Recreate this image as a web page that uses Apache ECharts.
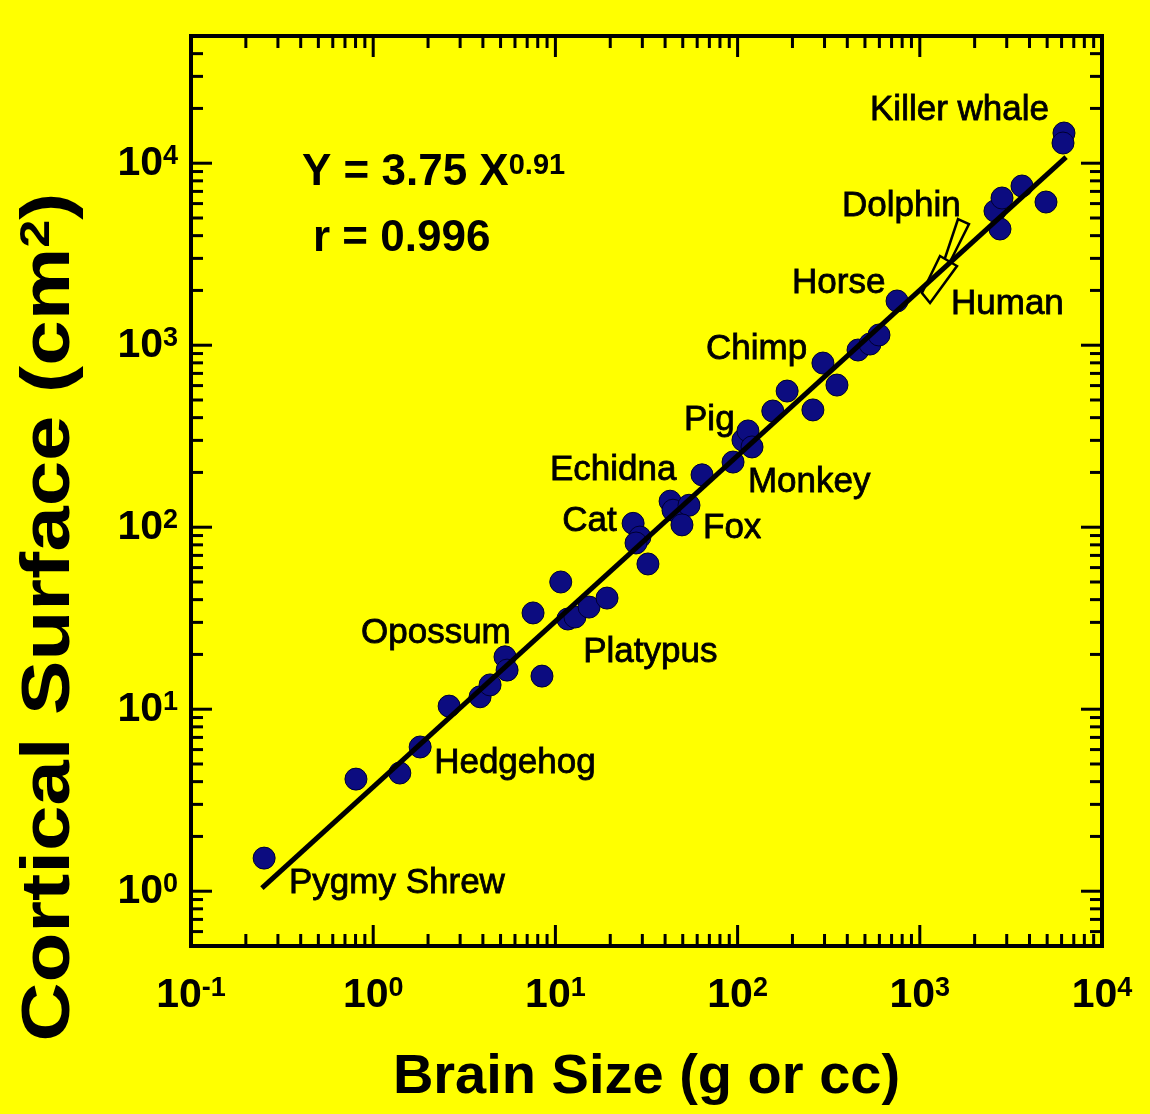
<!DOCTYPE html>
<html>
<head>
<meta charset="utf-8">
<title>Cortical Surface vs Brain Size</title>
<script src="https://cdn.jsdelivr.net/npm/echarts@6/dist/echarts.min.js"></script>
<style>
  body { margin: 0; background: #ffff00; }
  #main { width: 1150px; height: 1114px; }
</style>
</head>
<body>
<div id="main"></div>
<script>
// points: brain size (g or cc) vs cortical surface (cm2)
var brainSize = [0.252, 0.804, 1.40, 1.81, 2.61, 3.86, 4.38, 5.29, 5.43, 7.54,
  8.44, 10.7, 11.7, 12.8, 15.3, 19.2, 26.7, 29.1, 27.7, 32.2,
  42.6, 44.2, 54.1, 49.5, 63.8, 94.4, 107, 114, 120, 156,
  187, 259, 294, 351, 458, 533, 597, 750, 2586, 2755,
  2826, 3638, 4927, 6185, 6109];
var corticalSurface = [1.52, 4.13, 4.46, 6.20, 10.4, 11.7, 13.6, 19.4, 16.4, 33.8,
  15.2, 50.0, 31.3, 32.1, 36.4, 40.8, 105, 88.3, 81.9, 62.8,
  139, 124, 132, 103, 194, 228, 301, 338, 276, 435,
  560, 441, 798, 604, 941, 1015, 1138, 1750, 5463, 4350,
  6440, 7495, 6120, 14650, 12910];

// fitted line Y = 3.75 X^0.91, ends as drawn
var fitX = [0.245, 6350];
var fitY = [1.04, 10800];

// species names and where their text starts
var speciesNames = ['Killer whale', 'Dolphin', 'Horse', 'Human', 'Chimp', 'Pig', 'Echidna',
  'Monkey', 'Cat', 'Fox', 'Opossum', 'Platypus', 'Hedgehog', 'Pygmy Shrew'];
var speciesLabelX = [533, 374, 199, 1483, 67.1, 50.8, 9.34, 114, 10.9, 64.6, 0.857, 14.2, 2.16, 0.345];
var speciesLabelY = [19600, 5820, 2197, 1684, 953, 388, 206, 177, 108, 99, 26.2, 20.6, 5.06, 1.10];

// the two pointer outlines next to Dolphin and Human
var dolphinX = [1621, 1862, 1464, 1341];
var dolphinY = [4936, 4634, 2865, 2794];
var humanX = [1291, 1600, 1138, 1028];
var humanY = [3091, 2724, 1706, 1936];

// tick values
var xMajorTicks = [0.1, 1, 10, 100, 1000, 10000];
var xMinorTicks = [0.2, 0.3, 0.4, 0.5, 0.6, 0.7, 0.8, 0.9,
  2, 3, 4, 5, 6, 7, 8, 9,
  20, 30, 40, 50, 60, 70, 80, 90,
  200, 300, 400, 500, 600, 700, 800, 900,
  2000, 3000, 4000, 5000, 6000, 7000, 8000, 9000];
var yMajorTicks = [1, 10, 100, 1000, 10000];
var yMinorTicks = [0.6, 0.7, 0.8, 0.9,
  2, 3, 4, 5, 6, 7, 8, 9,
  20, 30, 40, 50, 60, 70, 80, 90,
  200, 300, 400, 500, 600, 700, 800, 900,
  2000, 3000, 4000, 5000, 6000, 7000, 8000, 9000,
  20000, 30000, 40000];

var FONT = '"Liberation Sans", Arial, Helvetica, sans-serif';
var X_MIN = 0.1, X_MAX = 10000, Y_MIN = 0.5, Y_MAX = 50000;

function powLabel(v) {
  var l = Math.log10(v);
  if (Math.abs(l - Math.round(l)) > 1e-6) return '';
  return '{b|10}{s|' + Math.round(l) + '}';
}

var labelRich = {
  b: { fontSize: 41, fontWeight: 'bold', fontFamily: FONT, color: '#000' },
  s: { fontSize: 27, fontWeight: 'bold', fontFamily: FONT, color: '#000', verticalAlign: 'top' }
};

function xTicks(values, len) {
  return {
    type: 'custom', silent: true, clip: false, z: 6,
    data: values.map(function (v) { return [v, Y_MIN]; }),
    renderItem: function (params, api) {
      var b = api.coord([api.value(0), Y_MIN]);
      var t = api.coord([api.value(0), Y_MAX]);
      return { type: 'group', children: [
        { type: 'line', shape: { x1: b[0], y1: b[1], x2: b[0], y2: b[1] - len }, style: { stroke: '#000', lineWidth: 3 } },
        { type: 'line', shape: { x1: t[0], y1: t[1], x2: t[0], y2: t[1] + len }, style: { stroke: '#000', lineWidth: 3 } }
      ] };
    }
  };
}

function yTicks(values, len) {
  return {
    type: 'custom', silent: true, clip: false, z: 6,
    data: values.map(function (v) { return [X_MIN, v]; }),
    renderItem: function (params, api) {
      var l = api.coord([X_MIN, api.value(1)]);
      var r = api.coord([X_MAX, api.value(1)]);
      return { type: 'group', children: [
        { type: 'line', shape: { x1: l[0], y1: l[1], x2: l[0] + len, y2: l[1] }, style: { stroke: '#000', lineWidth: 3 } },
        { type: 'line', shape: { x1: r[0], y1: r[1], x2: r[0] - len, y2: r[1] }, style: { stroke: '#000', lineWidth: 3 } }
      ] };
    }
  };
}

var outlines = [[dolphinX, dolphinY], [humanX, humanY]];

var myChart = echarts.init(document.getElementById('main'));

var option = {
  backgroundColor: '#ffff00',
  animation: false,
  grid: {
    left: 191, top: 36, right: 48, bottom: 168,
    show: true, borderColor: '#000', borderWidth: 4, backgroundColor: 'transparent'
  },
  xAxis: {
    type: 'log', logBase: 10, min: X_MIN, max: X_MAX,
    axisLine: { show: false }, axisTick: { show: false }, splitLine: { show: false },
    axisLabel: { margin: 29, formatter: powLabel, rich: labelRich },
    name: 'Brain Size (g or cc)', nameLocation: 'middle', nameGap: 104,
    nameTextStyle: { fontSize: 56, fontWeight: 'bold', fontFamily: FONT, color: '#000' }
  },
  yAxis: {
    type: 'log', logBase: 10, min: Y_MIN, max: Y_MAX,
    axisLine: { show: false }, axisTick: { show: false }, splitLine: { show: false },
    axisLabel: { margin: 13, formatter: powLabel, rich: labelRich }
  },
  graphic: [
    {
      type: 'text', x: 302, y: 173,
      style: {
        text: '{m|Y = 3.75 X}{s|0.91}', align: 'left', verticalAlign: 'middle',
        rich: {
          m: { fontSize: 44, fontWeight: 'bold', fontFamily: FONT, color: '#000' },
          s: { fontSize: 29, fontWeight: 'bold', fontFamily: FONT, color: '#000', verticalAlign: 'top' }
        }
      }
    },
    {
      type: 'text', x: 313, y: 239,
      style: { text: 'r = 0.996', fontSize: 44, fontWeight: 'bold', fontFamily: FONT, fill: '#000', align: 'left', verticalAlign: 'middle' }
    },
    {
      // axis title is drawn stretched along its length, as in the source figure
      type: 'text', x: 50, y: 617, rotation: Math.PI / 2, scaleX: 1.2,
      style: {
        text: '{t|Cortical Surface (cm}{u|2}{t|)}', align: 'center', verticalAlign: 'middle',
        rich: {
          t: { fontSize: 68, fontWeight: 'bold', fontFamily: FONT, color: '#000' },
          u: { fontSize: 42, fontWeight: 'bold', fontFamily: FONT, color: '#000', verticalAlign: 'top' }
        }
      }
    }
  ],
  series: [
    {
      type: 'scatter', z: 2,
      data: brainSize.map(function (x, i) { return [x, corticalSurface[i]]; }),
      symbolSize: 22,
      itemStyle: { color: '#0c0c80', borderColor: '#000030', borderWidth: 1, opacity: 1 }
    },
    {
      type: 'custom', silent: true, z: 3,
      data: outlines.map(function (o) { return [o[0][0], o[1][0]]; }),
      renderItem: function (params, api) {
        var o = outlines[params.dataIndex];
        var pts = o[0].map(function (x, i) { return api.coord([x, o[1][i]]); });
        return { type: 'polygon', shape: { points: pts }, style: { fill: '#ffff00', stroke: '#000', lineWidth: 2.5 } };
      }
    },
    {
      type: 'line', z: 4, symbol: 'none', silent: true,
      data: fitX.map(function (x, i) { return [x, fitY[i]]; }),
      lineStyle: { color: '#000', width: 5 }
    },
    {
      type: 'custom', silent: true, clip: false, z: 5,
      data: speciesNames.map(function (n, i) { return [speciesLabelX[i], speciesLabelY[i]]; }),
      renderItem: function (params, api) {
        var p = api.coord([api.value(0), api.value(1)]);
        return {
          type: 'text', x: p[0], y: p[1],
          style: {
            text: speciesNames[params.dataIndex], fontSize: 35, fontFamily: FONT, fill: '#000',
            stroke: '#000', lineWidth: 0.8, align: 'left', verticalAlign: 'middle'
          }
        };
      }
    },
    xTicks(xMajorTicks, 21),
    xTicks(xMinorTicks, 12),
    yTicks(yMajorTicks, 21),
    yTicks(yMinorTicks, 12)
  ]
};

myChart.setOption(option);
</script>
</body>
</html>
